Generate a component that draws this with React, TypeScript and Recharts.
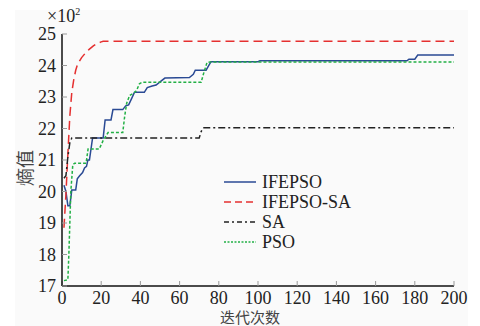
import { LineChart, Line, XAxis, YAxis, Legend } from 'recharts';

// iteration / value pairs (values in units of 10^2)
const ifepsoX = [1, 2, 3, 4, 5, 7, 7.8, 9, 10.5, 11.5, 12.5, 13.2, 14, 15.6, 21, 22, 25, 26, 31, 32.5, 34, 35.5, 37, 42, 43.5, 46, 48, 50, 52.5, 65, 67, 68, 73.5, 76, 100, 101, 176, 177, 180, 181.5, 200];
const ifepsoY = [20.2, 20.0, 19.55, 19.55, 20.05, 20.05, 20.4, 20.5, 20.6, 20.75, 20.8, 21.0, 21.0, 21.7, 21.7, 22.27, 22.27, 22.6, 22.6, 22.72, 22.75, 22.95, 23.15, 23.15, 23.3, 23.35, 23.38, 23.48, 23.6, 23.62, 23.72, 23.85, 23.85, 24.12, 24.12, 24.15, 24.15, 24.2, 24.2, 24.33, 24.33];

const ifepsoSaX = [1, 2, 3, 4, 5, 6, 7, 8, 9, 10, 12, 14, 16, 18, 20, 21, 200];
const ifepsoSaY = [18.85, 19.9, 21.2, 22.4, 23.15, 23.55, 23.85, 24.05, 24.15, 24.25, 24.4, 24.52, 24.62, 24.7, 24.75, 24.77, 24.77];

const saX = [1, 2, 3, 4, 5, 70, 71, 72, 200];
const saY = [20.42, 20.5, 21.1, 21.55, 21.7, 21.7, 21.9, 22.02, 22.02];

const psoX = [1, 3, 3.5, 4.5, 5.5, 6.5, 12.3, 13.3, 19, 21, 23.5, 31, 32, 33, 34.5, 36.5, 38, 39.5, 41, 71, 72.5, 74, 75.5, 200];
const psoY = [17.17, 17.2, 18.0, 20.0, 20.85, 20.9, 20.9, 21.35, 21.35, 21.62, 21.87, 21.87, 22.4, 22.8, 23.05, 23.12, 23.2, 23.42, 23.47, 23.47, 23.8, 24.1, 24.11, 24.11];

const xTicks = [0, 20, 40, 60, 80, 100, 120, 140, 160, 180, 200];
const yTicks = [17, 18, 19, 20, 21, 22, 23, 24, 25];

const toRows = (xs: number[], ys: number[]) => xs.map((x, i) => ({ x, y: ys[i] }));

const series = [
  { name: 'IFEPSO', data: toRows(ifepsoX, ifepsoY), color: '#2a4a94', dash: undefined as string | undefined, legendDash: undefined as string | undefined },
  { name: 'IFEPSO-SA', data: toRows(ifepsoSaX, ifepsoSaY), color: '#e53030', dash: '9 5', legendDash: '7 4' },
  { name: 'SA', data: toRows(saX, saY), color: '#222222', dash: '7 3 2 3', legendDash: '5 3 2 3' },
  { name: 'PSO', data: toRows(psoX, psoY), color: '#22b045', dash: '3 2', legendDash: '2 1.5' },
];

const serif = '"Liberation Serif", "Times New Roman", serif';
const cjk = '"Noto Sans CJK SC", sans-serif';

function LegendBox() {
  return (
    <div style={{ fontFamily: serif, fontSize: 18, color: '#222' }}>
      {series.map((s) => (
        <div key={s.name} style={{ display: 'flex', alignItems: 'center', height: 20 }}>
          <svg width={32} height={20}>
            <line x1={0} y1={10} x2={32} y2={10} stroke={s.color} strokeWidth={1.5} strokeDasharray={s.legendDash} />
          </svg>
          <span style={{ marginLeft: 6, lineHeight: '20px' }}>{s.name}</span>
        </div>
      ))}
    </div>
  );
}

export default function App() {
  return (
    <div style={{ position: 'absolute', left: 0, top: 0, width: 480, height: 326, background: '#fff', overflow: 'hidden' }}>
      <div style={{ position: 'absolute', left: 15, top: 10, width: 453, height: 316, background: '#fafafa' }} />
      <LineChart
        width={480}
        height={326}
        margin={{ top: 34, right: 26, left: 12, bottom: 10 }}
        style={{ position: 'absolute', left: 0, top: 0 }}
      >
        <XAxis
          dataKey="x"
          type="number"
          domain={[0, 200]}
          ticks={xTicks}
          allowDuplicatedCategory={false}
          height={30}
          stroke="#111"
          strokeWidth={1.5}
          tickSize={-5}
          tickMargin={10}
          tickLine={{ stroke: '#999', strokeWidth: 1 }}
          tick={{ fill: '#222', fontFamily: serif, fontSize: 18 }}
        />
        <YAxis
          type="number"
          domain={[17, 25]}
          ticks={yTicks}
          width={50}
          stroke="#111"
          strokeWidth={1.5}
          tickSize={-5}
          tickMargin={11}
          tickLine={{ stroke: '#999', strokeWidth: 1 }}
          tick={{ fill: '#222', fontFamily: serif, fontSize: 18 }}
        />
        <Legend
          layout="vertical"
          align="center"
          verticalAlign="middle"
          wrapperStyle={{ left: 224, top: 172, width: 160 }}
          content={() => <LegendBox />}
        />
        {series.map((s) => (
          <Line
            key={s.name}
            data={s.data}
            dataKey="y"
            name={s.name}
            type="linear"
            stroke={s.color}
            strokeWidth={1.5}
            strokeDasharray={s.dash}
            dot={false}
            activeDot={false}
            isAnimationActive={false}
          />
        ))}
      </LineChart>
      <div style={{ position: 'absolute', left: 47, top: 6, fontFamily: serif, fontSize: 18, color: '#222', lineHeight: '20px' }}>
        ×10<sup style={{ fontSize: 10, verticalAlign: 'top', lineHeight: '12px' }}>2</sup>
      </div>
      <div
        style={{
          position: 'absolute',
          left: 24,
          top: 168,
          transform: 'translate(-50%, -50%) rotate(-90deg)',
          fontFamily: cjk,
          fontSize: 18,
          color: '#444',
          whiteSpace: 'nowrap',
        }}
      >
        熵值
      </div>
      <div
        style={{
          position: 'absolute',
          left: 250,
          top: 309,
          transform: 'translateX(-50%)',
          fontFamily: cjk,
          fontSize: 15,
          color: '#444',
          whiteSpace: 'nowrap',
          lineHeight: '16px',
          height: 16,
        }}
      >
        迭代次数
      </div>
    </div>
  );
}
